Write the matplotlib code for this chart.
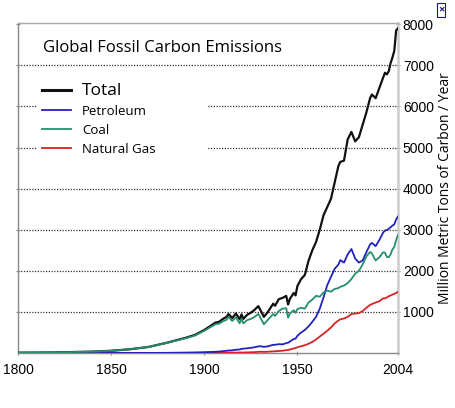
import matplotlib
matplotlib.use('Agg')
from matplotlib import pyplot as plt
from matplotlib.patches import Rectangle

# years shared by every series
years = [1800, 1810, 1820, 1830, 1840, 1850, 1860, 1870, 1880, 1890, 1895,
         1900, 1903, 1906, 1908, 1910, 1912, 1913, 1915, 1917, 1919, 1920,
         1921, 1923, 1925, 1927, 1929, 1930, 1932, 1934, 1937, 1938, 1940,
         1942, 1944, 1945, 1946, 1948, 1949, 1950, 1952, 1954, 1956, 1958,
         1960, 1962, 1964, 1966, 1968, 1970, 1972, 1973, 1975, 1977, 1979,
         1981, 1983, 1985, 1987, 1989, 1990, 1992, 1994, 1996, 1997, 1998,
         1999, 2000, 2001, 2002, 2003, 2004]

total = [8, 10, 14, 24, 33, 54, 91, 147, 250, 370, 440,
         560, 650, 740, 760, 830, 880, 950, 850, 960, 820, 940,
         830, 930, 980, 1050, 1140, 1060, 880, 990, 1200, 1150, 1310,
         1340, 1390, 1180, 1320, 1460, 1400, 1630, 1800, 1900, 2250, 2500,
         2700, 3000, 3350, 3550, 3750, 4150, 4550, 4650, 4680, 5200, 5380,
         5150, 5250, 5550, 5850, 6200, 6290, 6200, 6450, 6700, 6820, 6780,
         6850, 7050, 7190, 7350, 7850, 7900]

petroleum = [0, 0, 0, 0, 0, 0, 0, 1, 4, 10, 14,
             20, 25, 30, 35, 45, 55, 60, 65, 80, 85, 100,
             105, 115, 125, 140, 160, 165, 150, 160, 200, 200, 215,
             210, 240, 250, 280, 340, 350, 420, 500, 560, 650, 760,
             880, 1080, 1350, 1650, 1850, 2050, 2150, 2260, 2200, 2400, 2530,
             2300, 2200, 2250, 2450, 2640, 2680, 2600, 2750, 2930, 2980, 2990,
             3020, 3060, 3100, 3130, 3250, 3320]

coal = [8, 10, 14, 24, 33, 54, 91, 146, 246, 360, 425,
        540, 620, 700, 715, 770, 810, 880, 780, 870, 720, 830,
        720, 800, 830, 880, 950, 870, 700, 800, 950, 900, 1020,
        1080, 1090, 860, 960, 1040, 980, 1070, 1100, 1080, 1230, 1300,
        1390, 1370, 1470, 1520, 1490, 1560, 1580, 1610, 1640, 1700, 1800,
        1930, 2000, 2150, 2350, 2460, 2420, 2250, 2330, 2450, 2440, 2340,
        2330, 2400, 2520, 2580, 2750, 2870]

natural_gas = [0, 0, 0, 0, 0, 0, 0, 0, 0, 1, 2,
               3, 4, 5, 6, 7, 8, 8, 9, 10, 11, 12,
               12, 15, 18, 22, 28, 30, 28, 30, 40, 42, 50,
               55, 70, 75, 85, 110, 120, 140, 165, 190, 225, 270,
               330, 400, 470, 540, 620, 720, 790, 820, 840, 880, 950,
               960, 970, 1020, 1100, 1170, 1190, 1230, 1260, 1330, 1330, 1350,
               1380, 1400, 1420, 1440, 1460, 1490]

x_ticks = [1800, 1850, 1900, 1950, 2004]
y_ticks = [1000, 2000, 3000, 4000, 5000, 6000, 7000, 8000]

plt.rcParams['font.family'] = ['Open Sans', 'DejaVu Sans']

fig = plt.figure(figsize=(4.55, 4.08), dpi=100)
ax = fig.add_axes([18 / 455, 1 - 353 / 408, 380 / 455, 330 / 408])

ax.plot(years, total, color='#111111', lw=1.6, label='Total', zorder=3)
ax.plot(years, natural_gas, color='#d92323', lw=1.3, label='Natural Gas', zorder=3)
ax.plot(years, petroleum, color='#2222bb', lw=1.3, label='Petroleum', zorder=3)
ax.plot(years, coal, color='#23906a', lw=1.3, label='Coal', zorder=3)

ax.set_xlim(1800, 2004)
ax.set_ylim(0, 8030)
ax.set_xticks(x_ticks)
ax.set_xticklabels([str(t) for t in x_ticks], family='Liberation Sans', fontsize=10)
ax.set_yticks(y_ticks)
ax.set_yticklabels([str(t) for t in y_ticks], family='Liberation Sans', fontsize=10)
ax.yaxis.tick_right()
ax.yaxis.set_label_position('right')
ax.set_ylabel('Million Metric Tons of Carbon / Year', fontsize=10, labelpad=3)
ax.tick_params(axis='both', length=3, direction='inout', color='#888888', pad=2)
ax.tick_params(axis='x', pad=6)
ax.tick_params(axis='y', left=True)

for s in ax.spines.values():
    s.set_color('#aaaaaa')
    s.set_linewidth(1.0)
ax.spines['left'].set_color('#888888')
ax.spines['bottom'].set_color('#888888')
ax.spines['right'].set_color('#cccccc')
ax.spines['right'].set_linewidth(1.8)

ax.yaxis.grid(True, color='#333333', linestyle=(0, (1, 1.2)), lw=0.9, zorder=1)
ax.set_axisbelow(True)
ax.get_ygridlines()[-1].set_visible(False)

# white patch behind the legend hides the grid there
ax.add_patch(Rectangle((0.05, 0.59), 0.447, 0.27, transform=ax.transAxes,
                       facecolor='white', edgecolor='none', zorder=2))

ax.text(0.066, 0.925, 'Global Fossil Carbon Emissions', transform=ax.transAxes,
        fontsize=12, va='center', ha='left', zorder=4)

handles, labels = ax.get_legend_handles_labels()
order = [0, 2, 3, 1]
leg = ax.legend([handles[i] for i in order], [labels[i] for i in order],
                loc='upper left', bbox_to_anchor=(0.05, 0.835), frameon=False,
                fontsize=9.5, handlelength=2.2, handletextpad=0.8,
                labelspacing=0.45, borderaxespad=0)
leg.get_texts()[0].set_fontsize(12.5)
leg.get_lines()[0].set_linewidth(2.2)
leg.set_zorder(5)

fig.text(441 / 455, 1 - 10 / 408, '\u00d7', fontsize=8, color='#1a1a80',
         ha='center', va='center', weight='bold',
         bbox=dict(boxstyle='square,pad=0.1', facecolor='white', edgecolor='#1a1a80', lw=0.8))

fig.savefig('out.png', dpi=100)
